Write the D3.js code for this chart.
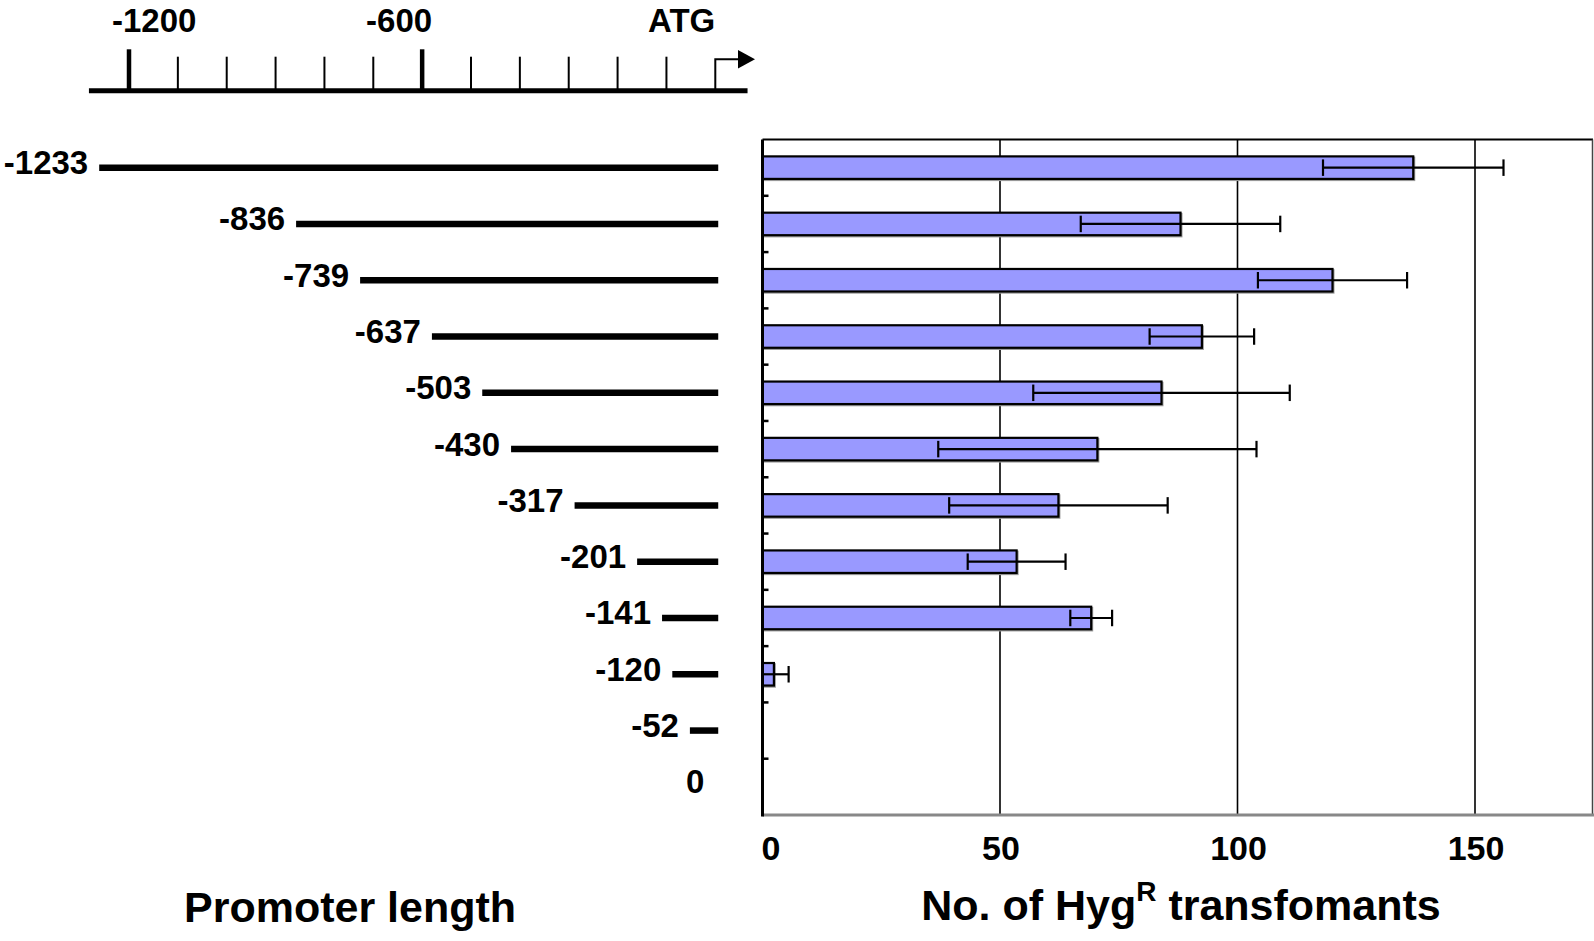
<!DOCTYPE html>
<html>
<head>
<meta charset="utf-8">
<script src="https://cdn.jsdelivr.net/npm/d3@7"></script>
<style>
  html, body { margin: 0; padding: 0; background: #fff; }
  svg { display: block; }
  text { font-family: "Liberation Sans", Arial, Helvetica, sans-serif; font-weight: bold; fill: #000; }
</style>
</head>
<body>
<script>
// ---------------- DATA ----------------
const categories = ["-1233", "-836", "-739", "-637", "-503", "-430", "-317", "-201", "-141", "-120", "-52", "0"];
// start of each promoter line as drawn on the ruler (bp)
const drawnStart = [-1261, -858, -727, -580, -477, -418, -288, -160, -109, -88, -52, 0];
const lineEndBp = 6;
// number of HygR transformants (mean) and error
const means  = [137, 88, 120, 92.5, 84, 70.5, 62.3, 53.5, 69.2, 2.4, 0, 0];
const errors = [19, 21, 15.7, 11, 27, 33.5, 23, 10.3, 4.4, 3.1, 0, 0];
const xTicks = [0, 50, 100, 150];
// ruler
const rulerExtent = [-1282, 66];
const majorTicks = [-1200, -600];
const minorTicks = [-1100, -1000, -900, -800, -700, -500, -400, -300, -200, -100];
const rulerLabels = [{bp: -1200, text: "-1200"}, {bp: -600, text: "-600"}, {bp: 0, text: "ATG"}];

// ---------------- SETUP ----------------
const W = 1594, H = 941;
const svg = d3.select("body").append("svg").attr("width", W).attr("height", H);
const SX = 1.0;

function stext(parent, x, y, str, size, anchor) {
  const g = parent.append("g").attr("transform", `translate(${x},${y}) scale(${SX},1)`);
  return g.append("text").attr("text-anchor", anchor).attr("font-size", size).text(str);
}

const rows = categories.map((c, i) => ({cat: c, start: drawnStart[i], mean: means[i], err: errors[i]}));

// scales
const plotTop = 139.5, plotBottom = 815;
const y = d3.scaleBand().domain(categories).range([plotTop, plotBottom]).padding(0);
const bw = y.bandwidth();
const x = d3.scaleLinear().domain([0, 175]).range([762.5, 1593.75]);
const ruler = d3.scaleLinear().domain([-1200, 0]).range([129, 715.3]);

// ---------------- RULER (top left) ----------------
const rg = svg.append("g");
rg.append("line")
  .attr("x1", ruler(rulerExtent[0])).attr("x2", ruler(rulerExtent[1]))
  .attr("y1", 90.7).attr("y2", 90.7)
  .attr("stroke", "#000").attr("stroke-width", 5);
rg.selectAll("line.minor").data(minorTicks).join("line").attr("class", "minor")
  .attr("x1", d => ruler(d)).attr("x2", d => ruler(d))
  .attr("y1", 56.7).attr("y2", 90)
  .attr("stroke", "#000").attr("stroke-width", 2);
rg.selectAll("line.major").data(majorTicks).join("line").attr("class", "major")
  .attr("x1", d => ruler(d)).attr("x2", d => ruler(d))
  .attr("y1", 49.3).attr("y2", 90)
  .attr("stroke", "#000").attr("stroke-width", 4.5);
// ATG arrow
rg.append("path")
  .attr("d", `M${ruler(0)},90 V59.3 H739`)
  .attr("fill", "none").attr("stroke", "#000").attr("stroke-width", 2);
rg.append("path")
  .attr("d", `M738,50 L755,59.3 L738,68.6 Z`)
  .attr("fill", "#000");
rulerLabels.forEach(l => {
  let anchor = "middle", dx = 0;
  if (l.bp === -1200) { anchor = "start"; dx = -17; }
  else if (l.bp === -600) { anchor = "end"; dx = 10; }
  else { anchor = "end"; dx = 0; }
  stext(rg, ruler(l.bp) + dx, 31.5, l.text, 33, anchor);
});

// ---------------- PROMOTER LINES (left) ----------------
const lg = svg.append("g");
lg.selectAll("line.prom").data(rows.filter(d => d.start < 0)).join("line").attr("class", "prom")
  .attr("x1", d => ruler(d.start)).attr("x2", ruler(lineEndBp))
  .attr("y1", d => y(d.cat) + bw / 2).attr("y2", d => y(d.cat) + bw / 2)
  .attr("stroke", "#000").attr("stroke-width", 6.5);
rows.forEach(d => {
  stext(lg, ruler(d.start) - 11, y(d.cat) + bw / 2 + 6.5, d.cat, 33, "end");
});

// ---------------- BAR CHART (right) ----------------
const bg = svg.append("g");
// gridlines
bg.selectAll("line.grid").data(xTicks.filter(t => t > 0)).join("line").attr("class", "grid")
  .attr("x1", d => x(d)).attr("x2", d => x(d))
  .attr("y1", plotTop).attr("y2", plotBottom)
  .attr("stroke", "#000").attr("stroke-width", 1.6);
// bars
const barH = bw * 0.4;
bg.selectAll("rect.shadow").data(rows.filter(d => d.mean > 0)).join("rect").attr("class", "shadow")
  .attr("x", x(0) + 1).attr("y", d => y(d.cat) + (bw - barH) / 2 + 1.2)
  .attr("width", d => x(d.mean) - x(0)).attr("height", barH)
  .attr("fill", "none").attr("stroke", "#999").attr("stroke-width", 2);
bg.selectAll("rect.bar").data(rows.filter(d => d.mean > 0)).join("rect").attr("class", "bar")
  .attr("x", x(0)).attr("y", d => y(d.cat) + (bw - barH) / 2)
  .attr("width", d => x(d.mean) - x(0)).attr("height", barH)
  .attr("fill", "#9999ff").attr("stroke", "#000").attr("stroke-width", 2.2);
// error bars
const eb = rows.filter(d => d.err > 0);
const capH = 16.5;
bg.selectAll("line.err").data(eb).join("line").attr("class", "err")
  .attr("x1", d => x(Math.max(0, d.mean - d.err))).attr("x2", d => x(d.mean + d.err))
  .attr("y1", d => y(d.cat) + bw / 2).attr("y2", d => y(d.cat) + bw / 2)
  .attr("stroke", "#000").attr("stroke-width", 2.2);
bg.selectAll("line.capL").data(eb).join("line").attr("class", "capL")
  .attr("x1", d => x(Math.max(0, d.mean - d.err))).attr("x2", d => x(Math.max(0, d.mean - d.err)))
  .attr("y1", d => y(d.cat) + bw / 2 - capH / 2).attr("y2", d => y(d.cat) + bw / 2 + capH / 2)
  .attr("stroke", "#000").attr("stroke-width", 2.2);
bg.selectAll("line.capR").data(eb).join("line").attr("class", "capR")
  .attr("x1", d => x(d.mean + d.err)).attr("x2", d => x(d.mean + d.err))
  .attr("y1", d => y(d.cat) + bw / 2 - capH / 2).attr("y2", d => y(d.cat) + bw / 2 + capH / 2)
  .attr("stroke", "#000").attr("stroke-width", 2.2);

// frame
bg.append("line").attr("x1", x(0)).attr("x2", 1593).attr("y1", plotTop).attr("y2", plotTop)
  .attr("stroke", "#000").attr("stroke-width", 2);
bg.append("line").attr("x1", 1592.5).attr("x2", 1592.5).attr("y1", plotTop).attr("y2", plotBottom)
  .attr("stroke", "#444").attr("stroke-width", 1.5);
bg.append("line").attr("x1", x(0)).attr("x2", 1594).attr("y1", plotBottom).attr("y2", plotBottom)
  .attr("stroke", "#888").attr("stroke-width", 3);
// left axis with inward ticks at band boundaries
bg.append("line").attr("x1", x(0)).attr("x2", x(0)).attr("y1", plotTop).attr("y2", plotBottom + 1.5)
  .attr("stroke", "#000").attr("stroke-width", 3);
bg.selectAll("line.ytick").data(categories.slice(1)).join("line").attr("class", "ytick")
  .attr("x1", x(0)).attr("x2", x(0) + 6)
  .attr("y1", d => y(d)).attr("y2", d => y(d))
  .attr("stroke", "#000").attr("stroke-width", 2.5);

// x tick labels
xTicks.forEach(t => {
  if (t === 0) stext(bg, x(t) - 1, 859.5, String(t), 34, "start");
  else stext(bg, x(t) + 1, 859.5, String(t), 34, "middle");
});

// ---------------- TITLES ----------------
stext(svg, 350, 922, "Promoter length", 43, "middle");
const tg = svg.append("g").attr("transform", `translate(1181,920)`);
const tt = tg.append("text").attr("text-anchor", "middle").attr("font-size", 43);
tt.append("tspan").text("No. of Hyg");
tt.append("tspan").attr("font-size", 28).attr("dy", -19).text("R");
tt.append("tspan").attr("dy", 19).text(" transfomants");
</script>
</body>
</html>
